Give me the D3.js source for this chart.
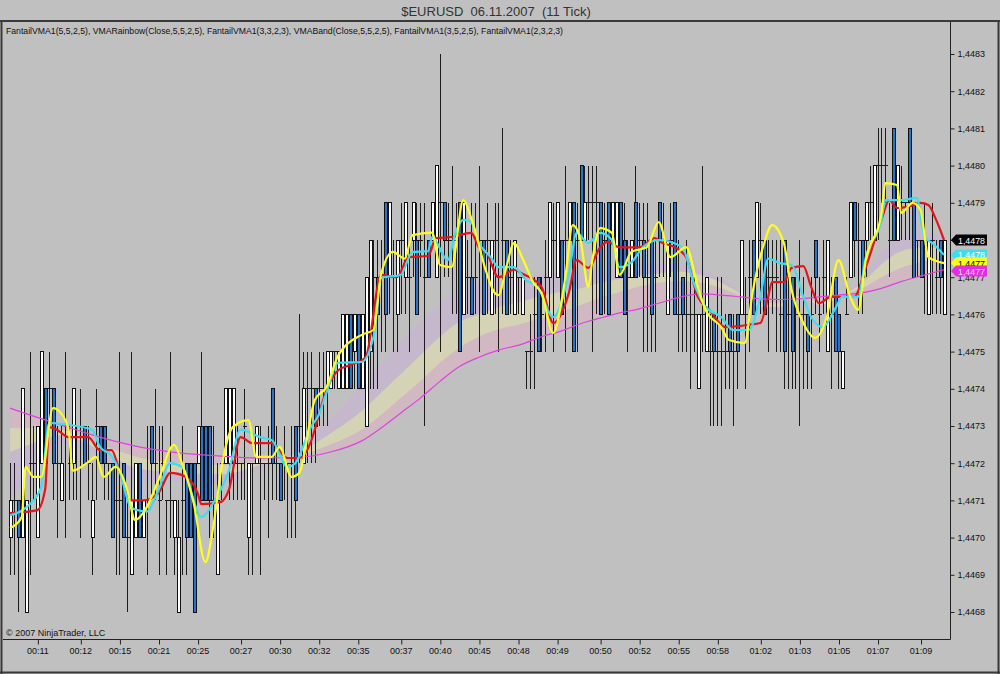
<!DOCTYPE html>
<html>
<head>
<meta charset="utf-8">
<script src="https://cdn.jsdelivr.net/npm/d3@7"></script>
<style>
  body { margin: 0; background: #c0c0c0; }
  svg  { display: block; font-family: "Liberation Sans", Arial, sans-serif; }
</style>
</head>
<body>
<svg id="chart"></svg>
<script>
// Prices are stored in pips above the base price
const basePrice = 1.4468, pip = 0.0001;

const opens = [
  2,3,3,2,0,4,4,2,4,6, 6,6,4,3,5,4,4,5,5,5, 4,2,5,5,5,4,4,3,3,4, 2,1,2,4,2,3,5,4,3,4,
  3,3,2,0,3,4,4,4,4,5, 5,5,3,1,4,4,4,4,4,4, 5,2,4,4,4,4,4,6,4,4, 4,4,4,5,5,4,6,6,6,6,
  6,6,6,7,6,6,6,8,7,8, 6,5,7,9,9,9,11,9,9,8, 10,9,9,10,10,10,9,10,10,9, 11,11,10,10,10,11,8,9,9,9,
  10,10,10,8,10,9,10,10,9,8, 9,8,7,7,8,9,8,9,9,10, 9,10,10,10,11,10,12,10,11,11, 11,11,10,11,10,9,11,10,9,9,
  11,10,10,9,10,9,11,10,8,10, 11,8,9,8,8,8,6,8,7,7, 8,7,7,7,8,7,8,8,8,9, 10,9,10,10,9,9,9,8,10,8,
  9,8,8,8,8,8,10,8,9,7, 8,9,8,6,8,9,11,10,10,10, 11,10,12,12,12,10,13,10,11,11, 13,11,10,10,10,8,10,9,10,8
];
const highs = [
  4,4,3,6,3,7,5,5,7,6, 7,6,5,5,7,5,6,5,6,5, 5,4,6,5,5,4,4,4,7,4, 3,7,4,4,3,5,5,6,5,5,
  3,7,3,3,5,4,4,4,5,7, 5,5,5,4,4,6,6,6,5,4, 6,4,4,5,5,4,5,6,5,4, 5,4,5,5,8,7,7,7,6,7,
  7,7,7,7,7,8,8,8,8,8, 8,9,10,10,10,10,11,11,10,10, 11,11,10,11,11,11,11,10,11,12, 15,11,11,12,11,11,11,10,11,11,
  12,10,11,10,11,11,13,10,10,10, 9,9,7,8,9,9,9,10,11,11, 11,10,12,11,11,11,12,12,12,12, 12,11,11,11,11,11,11,11,10,10,
  12,11,11,11,10,10,11,11,10,11, 11,10,9,10,9,9,8,12,9,8, 8,9,9,8,8,8,8,10,9,10, 10,11,11,10,10,10,10,10,10,9,
  9,9,10,9,8,9,10,9,10,10, 9,9,8,7,9,11,11,11,10,11, 12,12,13,13,13,11,13,12,12,11, 13,11,10,10,11,10,11,10,10,10
];
const lows = [
  1,1,0,2,0,1,3,2,4,4, 5,3,2,3,2,3,3,3,2,4, 3,1,3,4,3,3,2,1,1,2, 0,1,2,2,2,1,3,3,1,3,
  1,2,1,0,1,1,2,0,4,3, 3,2,2,1,3,4,3,3,3,3, 3,1,1,4,1,3,2,3,3,3, 3,2,2,2,4,4,4,4,4,5,
  5,5,6,6,6,6,6,6,6,6, 6,5,6,6,6,7,7,8,7,7, 8,8,7,9,8,9,5,9,10,9, 7,9,9,8,8,7,8,8,8,8,
  7,8,8,8,8,7,8,8,8,8, 8,8,6,6,6,7,7,7,8,7, 9,8,7,10,7,7,10,10,10,7, 8,8,8,8,10,9,9,8,7,9,
  9,9,7,7,7,7,9,9,8,9, 8,7,7,7,6,7,6,7,7,5, 5,5,5,6,6,5,6,8,6,7, 8,9,8,8,7,8,7,7,6,6,
  6,6,5,6,6,6,8,7,8,7, 6,7,6,6,8,9,9,8,8,9, 10,10,10,11,11,9,10,10,10,10, 10,9,9,9,8,8,8,8,8,8
];
const closes = [
  3,3,2,6,3,4,4,5,7,4, 6,4,4,4,5,4,6,5,5,4, 4,3,5,4,4,4,2,3,3,2, 2,3,4,2,3,3,4,4,3,4,
  3,3,3,2,3,2,2,0,5,3, 3,3,3,3,4,6,6,6,4,4, 5,4,4,5,4,4,4,4,4,3, 4,4,4,3,5,6,6,6,5,6,
  6,7,7,7,7,8,8,6,8,6, 8,9,10,9,8,9,8,11,9,10, 10,11,9,11,8,10,9,9,11,12, 11,10,10,10,10,7,11,9,8,9,
  10,8,10,10,10,9,10,8,9,10, 9,9,7,7,8,7,8,9,11,10, 11,8,10,11,7,10,10,11,11,11, 11,8,10,8,11,11,9,8,9,10,
  9,10,9,9,8,9,10,10,10,10, 8,8,8,8,8,8,8,8,9,7, 7,7,7,7,7,7,7,10,8,9, 8,11,10,8,9,9,9,8,7,8,
  7,8,8,8,7,8,9,8,9,10, 8,7,7,7,8,11,10,10,9,11, 11,12,12,12,12,10,10,12,11,11, 11,9,10,9,10,10,10,9,9,10
];

// Indicator lines: [bar index, pips]
const redPts = [[0,2.66],[7,2.74],[9,3.3],[10,4.97],[12,4.9],[15,4.7],[20,4.7],[23,4.35],[26,4.35],[28,3.8],
  [31,3.0],[34,3.0],[38,3.2],[41,3.74],[45,3.63],[48,3.2],[49,2.9],[54,2.96],[56,3.28],[59,4.7],[62,4.54],
  [67,4.54],[71,4.14],[74,4.14],[78,4.9],[79,5.3],[82,6.2],[84,6.5],[87,6.64],[91,6.85],[95,9.06],[99,9.0],
  [102,9.54],[107,9.57],[109,10.05],[113,10.08],[118,10.19],[120,9.8],[122,9.65],[125,9.0],[129,9.2],[131,9.1],
  [136,8.74],[139,7.77],[143,8.58],[145,9.46],[148,9.25],[151,9.8],[153,9.95],[156,9.8],[161,9.8],[165,10.05],
  [167,9.92],[170,9.81],[173,9.54],[176,8.47],[179,8.12],[183,7.66],[189,7.72],[192,7.77],[194,8.47],[195,8.87],
  [198,8.87],[200,9.25],[203,9.3],[205,8.74],[207,8.3],[210,8.47],[216,8.47],[219,9.27],[223,10.54],[225,11.07],
  [227,10.86],[230,10.9],[233,11.0],[235,10.94],[237,10.54],[239,10.0]];
const cyanPts = [[0,2.6],[4,2.8],[8,3.36],[10,5.08],[15,5.03],[21,4.9],[23,4.44],[26,4.2],[28,3.8],[31,2.8],
  [35,2.7],[38,3.28],[41,4.0],[44,3.9],[49,2.55],[52,2.93],[56,3.8],[59,4.9],[64,4.7],[67,4.62],[71,3.9],
  [73,4.0],[77,4.97],[79,5.3],[81,5.9],[84,6.7],[90,6.72],[93,7.39],[95,8.98],[100,9.06],[103,9.68],[107,9.7],
  [108,10.08],[112,9.46],[114,10.2],[116,10.54],[118,10.48],[120,9.92],[123,9.54],[125,9.27],[129,9.27],
  [132,8.92],[135,8.74],[139,7.93],[143,9.1],[145,10.19],[148,9.92],[151,10.19],[154,10.0],[156,9.27],
  [159,9.4],[162,9.81],[166,10.0],[172,9.81],[175,8.84],[178,8.2],[182,7.93],[185,7.58],[189,7.58],[192,8.47],
  [194,9.5],[197,9.38],[200,9.33],[203,8.47],[205,7.93],[208,7.66],[211,8.12],[213,8.47],[217,8.47],[219,9.54],
  [223,10.54],[224,11.07],[228,11.07],[232,11.13],[234,10.08],[236,9.92],[239,9.6]];
const yellowPts = [[0,2.26],[3,2.55],[4,3.9],[6,3.63],[8,3.63],[11,5.48],[13,5.35],[15,4.9],[16,3.8],[20,4.03],
  [22,4.17],[24,3.63],[27,3.9],[30,3.28],[32,2.47],[35,2.82],[38,3.55],[42,4.49],[44,4.0],[47,2.93],[50,1.34],
  [52,2.28],[54,3.8],[57,4.97],[61,5.16],[63,4.17],[67,4.17],[69,4.44],[72,3.63],[74,3.74],[78,5.7],[81,6.05],
  [84,6.9],[90,7.45],[93,7.58],[95,9.1],[98,9.68],[101,9.5],[103,10.13],[108,10.2],[110,9.33],[113,9.27],
  [116,11.07],[118,10.6],[122,9.1],[124,8.58],[125,8.52],[127,9.27],[129,9.92],[131,9.54],[134,8.84],[136,8.58],
  [139,7.5],[142,8.92],[144,10.4],[146,10.0],[148,8.74],[149,9.46],[151,10.32],[154,10.19],[156,9.06],[159,9.68],
  [163,9.81],[166,10.48],[169,9.54],[173,9.81],[176,8.74],[178,8.12],[182,7.66],[184,7.31],[188,7.23],[190,8.58],
  [193,9.92],[195,10.4],[198,9.92],[200,8.66],[203,7.77],[206,7.37],[209,7.93],[212,9.46],[215,8.47],[217,8.12],
  [219,9.46],[223,10.73],[224,11.53],[227,11.48],[228,10.73],[231,11.0],[233,10.8],[235,9.54],[239,9.38]];

// Slow VMA (magenta) and the rainbow layers, same bar indices
const vmaIdx   = [0,5,13,23,33,44,54,64,74,82, 90,95,100,105,110,115,120,125,131,136,
                  141,146,151,156,161,166,171,177,182,187, 192,197,202,207,212,218,223,228,233,239];
const vmaSlow  = [5.48,5.3,5.03,4.7,4.44,4.27,4.19,4.14,4.16,4.3, 4.6,4.95,5.35,5.75,6.2,6.6,6.85,7.04,7.2,7.4,
                  7.55,7.75,7.9,8.04,8.15,8.3,8.45,8.55,8.52,8.47, 8.42,8.4,8.42,8.47,8.52,8.58,8.7,8.88,9.03,9.2];
const rainbow1 = [4.95,4.95,4.9,4.5,4.15,4.0,3.95,4.05,4.2,4.5, 4.9,5.3,5.75,6.2,6.7,7.1,7.4,7.6,7.75,7.9,
                  8.05,8.25,8.45,8.6,8.75,8.85,8.9,8.85,8.7,8.5, 8.3,8.3,8.45,8.35,8.5,8.7,9.0,9.25,9.4,9.5];
const rainbow2 = [4.3,4.5,4.75,4.35,3.85,3.75,3.7,3.95,4.3,4.8, 5.4,5.9,6.4,6.9,7.4,7.8,8.0,8.2,8.35,8.5,
                  8.6,8.7,8.85,8.95,9.05,9.1,9.15,9.05,8.85,8.55, 8.2,8.2,8.5,8.25,8.45,8.85,9.35,9.7,9.8,9.8];
const rainbow3 = [3.0,3.6,4.5,4.2,3.5,3.5,3.45,3.85,4.45,5.2, 6.1,6.7,7.3,7.8,8.3,8.6,8.8,8.9,9.0,9.1,
                  9.1,9.15,9.2,9.25,9.3,9.35,9.4,9.2,8.95,8.6, 8.1,8.1,8.55,8.15,8.4,9.0,9.7,10.1,10.2,10.1];

const tickBars   = [7,18,28,38,48,59,69,79,89,100,110,120,130,140,151,161,171,181,192,202,212,222,233];
const tickLabels = ["00:11","00:12","00:15","00:21","00:25","00:27","00:30","00:32","00:35","00:37","00:40","00:45",
                    "00:48","00:49","00:50","00:52","00:55","00:58","01:02","01:03","01:05","01:07","01:09"];
const priceLevels = [0,1,2,3,4,5,6,7,8,9,10,11,12,13,14,15];

const titleText = "$EURUSD  06.11.2007  (11 Tick)";
const legendText = "FantailVMA1(5,5,2,5), VMARainbow(Close,5,5,2,5), FantailVMA1(3,3,2,3), VMABand(Close,5,5,2,5), FantailVMA1(3,5,2,5), FantailVMA1(2,3,2,3)";

drawChart();

function drawChart() {
  let width   = 1000,
      height  = 674,
      plotL   = 3,
      plotR   = 950,
      plotT   = 22,
      plotB   = 639,
      n       = closes.length,
      price   = lv => basePrice + lv * pip,
      fmt     = v => d3.format(".4f")(v).replace(".", ","),
      x       = d3.scaleLinear().domain([0, n - 1]).range([10, 944]),
      y       = d3.scaleLinear().domain([price(0), price(15)]).range([612, 54]),
      svg     = d3.select("#chart").attr("width", width).attr("height", height);

  svg.append("rect").attr("width", width).attr("height", height).attr("fill", "#c0c0c0");

  svg.append("clipPath").attr("id", "plotClip")
    .append("rect").attr("x", plotL).attr("y", plotT).attr("width", plotR - plotL).attr("height", plotB - plotT);

  let plot = svg.append("g").attr("clip-path", "url(#plotClip)");

  // Rainbow layers
  let layers = [
    {lo: vmaSlow,  hi: rainbow1, fill: "#f0a8c4", op: 0.36},
    {lo: rainbow1, hi: rainbow2, fill: "#f2f0a8", op: 0.40},
    {lo: rainbow2, hi: rainbow3, fill: "#d4a8e6", op: 0.32}
  ];
  layers.forEach(l => {
    let area = d3.area()
      .x((d, i) => x(vmaIdx[i]))
      .y0((d, i) => y(price(l.lo[i])))
      .y1((d, i) => y(price(l.hi[i])))
      .curve(d3.curveMonotoneX);
    plot.append("path").datum(vmaIdx).attr("d", area).attr("fill", l.fill).attr("fill-opacity", l.op);
  });

  // Candles
  let candles = plot.append("g").attr("shape-rendering", "crispEdges");
  d3.range(n).forEach(i => {
    let cx = Math.round(x(i)) + 0.5,
        o  = opens[i], c = closes[i];
    candles.append("line")
      .attr("x1", cx).attr("x2", cx)
      .attr("y1", y(price(highs[i]))).attr("y2", y(price(lows[i])))
      .attr("stroke", "#1c1c1c");
    if (o === c) {
      candles.append("line")
        .attr("x1", cx - 2).attr("x2", cx + 2)
        .attr("y1", y(price(o))).attr("y2", y(price(o)))
        .attr("stroke", "#1c1c1c");
    } else {
      let top = y(price(Math.max(o, c))), bot = y(price(Math.min(o, c)));
      candles.append("rect")
        .attr("x", cx - 1.5).attr("width", 3)
        .attr("y", top).attr("height", bot - top)
        .attr("fill", c > o ? "#ffffff" : "#2c72c9")
        .attr("stroke", "#111");
    }
  });

  // Indicator lines
  let line = d3.line().x(d => x(d[0])).y(d => y(price(d[1]))).curve(d3.curveMonotoneX);
  plot.append("path").datum(vmaIdx.map((d, i) => [d, vmaSlow[i]]))
    .attr("d", line).attr("fill", "none").attr("stroke", "#dd44dd").attr("stroke-width", 1.2);
  [[redPts, "#e5141b"], [cyanPts, "#3fdcef"], [yellowPts, "#ffff1e"]].forEach(s => {
    plot.append("path").datum(s[0]).attr("d", line)
      .attr("fill", "none").attr("stroke", s[1]).attr("stroke-width", 2.2)
      .attr("stroke-linejoin", "round");
  });

  // Frame
  svg.append("line").attr("x1", 0).attr("x2", width).attr("y1", 21).attr("y2", 21)
    .attr("stroke", "#3a3a3a").attr("stroke-width", 2);
  svg.append("line").attr("x1", 1.5).attr("x2", 1.5).attr("y1", 21).attr("y2", height)
    .attr("stroke", "#3a3a3a").attr("stroke-width", 2);
  svg.append("line").attr("x1", width - 1.5).attr("x2", width - 1.5).attr("y1", 21).attr("y2", height)
    .attr("stroke", "#3a3a3a").attr("stroke-width", 2);
  svg.append("line").attr("x1", 0).attr("x2", width).attr("y1", height - 1.5).attr("y2", height - 1.5)
    .attr("stroke", "#3a3a3a").attr("stroke-width", 2);
  svg.append("line").attr("x1", plotR + 0.5).attr("x2", plotR + 0.5).attr("y1", plotT).attr("y2", plotB + 0.5)
    .attr("stroke", "#222");
  svg.append("line").attr("x1", plotL).attr("x2", plotR + 0.5).attr("y1", plotB + 0.5).attr("y2", plotB + 0.5)
    .attr("stroke", "#222");

  // Axes
  let yAxis = svg.append("g").attr("transform", "translate(" + (plotR + 0.5) + ",0)")
    .call(d3.axisRight(y).tickValues(priceLevels.map(price)).tickFormat(fmt).tickSize(4).tickPadding(3));
  let xAxis = svg.append("g").attr("transform", "translate(0," + (plotB + 0.5) + ")")
    .call(d3.axisBottom(x).tickValues(tickBars).tickFormat((d, i) => tickLabels[i]).tickSize(5).tickPadding(3));
  [yAxis, xAxis].forEach(a => {
    a.select(".domain").remove();
    a.selectAll("line").attr("stroke", "#222");
    a.selectAll("text").attr("fill", "#111").style("font-size", "9px")
      .style("font-family", "\"Liberation Sans\", Arial, sans-serif");
  });
  xAxis.selectAll(".tick line").attr("transform", "translate(0.5,0)");

  // Last value tags, drawn over the price axis as in the platform
  let tags = [
    {v: price(closes[n - 1]),                     fill: "#000000", text: "#ffffff"},
    {v: price(cyanPts[cyanPts.length - 1][1]),     fill: "#3fdcef", text: "#ffffff"},
    {v: price(yellowPts[yellowPts.length - 1][1]), fill: "#ffff1e", text: "#000000"},
    {v: price(vmaSlow[vmaSlow.length - 1]),        fill: "#e22ee2", text: "#ffd0ff"}
  ];
  let lastY = -Infinity;
  tags.forEach(t => {
    let ty = Math.max(y(t.v), lastY + 8);
    lastY = ty;
    let g = svg.append("g").attr("transform", "translate(" + (plotR + 1) + "," + ty + ")");
    g.append("path").attr("d", "M0,0 L5,-5.5 L36,-5.5 L36,5.5 L5,5.5 Z").attr("fill", t.fill);
    g.append("text").attr("x", 7).attr("y", 3.5).attr("fill", t.text)
      .attr("textLength", 27).attr("lengthAdjust", "spacingAndGlyphs")
      .style("font-size", "9.5px").text(fmt(Math.round(t.v * 10000) / 10000));
  });

  // Texts
  svg.append("text").attr("x", 496).attr("y", 16).attr("text-anchor", "middle")
    .attr("fill", "#333").style("font-size", "13px").style("white-space", "pre").text(titleText);
  svg.append("text").attr("x", 6).attr("y", 34).attr("fill", "#111")
    .attr("textLength", 557).attr("lengthAdjust", "spacingAndGlyphs")
    .style("font-size", "9px").text(legendText);
  svg.append("text").attr("x", 6).attr("y", 636).attr("fill", "#111")
    .style("font-size", "9px").text("\u00a9 2007 NinjaTrader, LLC");
}
</script>
</body>
</html>
